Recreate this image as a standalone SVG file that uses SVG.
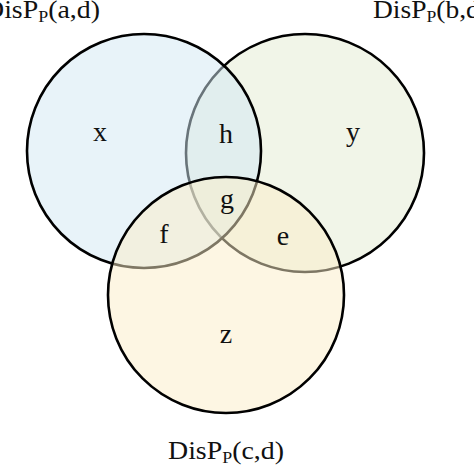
<svg xmlns="http://www.w3.org/2000/svg" width="474" height="474" viewBox="0 0 474 474">
<style>
.c{stroke:#000;stroke-width:2.6}
.lbl{font-family:"Liberation Serif","Times New Roman",serif;font-size:28px;fill:#111;text-anchor:middle}
.ttl{font-family:"Liberation Serif","Times New Roman",serif;font-size:25px;fill:#111}
.sub{font-size:16px}
</style>
<rect width="474" height="474" fill="#fff"/>
<g id="setB"><circle class="c" cx="305" cy="153" r="119" fill="#e5ecd6" fill-opacity="0.55"/></g>
<g id="setA"><circle class="c" cx="144" cy="151" r="117" fill="#d2e8f3" fill-opacity="0.5"/></g>
<g id="setC"><circle class="c" cx="226" cy="295" r="118" fill="#fbedc8" fill-opacity="0.5"/></g>
<g id="regions">
<text class="lbl" x="100" y="141">x</text>
<text class="lbl" x="226" y="143">h</text>
<text class="lbl" x="353" y="141">y</text>
<text class="lbl" x="227" y="208">g</text>
<text class="lbl" x="164" y="243">f</text>
<text class="lbl" x="283" y="245">e</text>
<text class="lbl" x="226" y="343">z</text>
</g>
<g id="titleA"><text class="ttl" x="-16" y="18" textLength="116" lengthAdjust="spacingAndGlyphs">DisP<tspan class="sub" dy="4">P</tspan><tspan dy="-4">(a,d)</tspan></text></g>
<g id="titleB"><text class="ttl" x="373" y="18" textLength="116" lengthAdjust="spacingAndGlyphs">DisP<tspan class="sub" dy="4">P</tspan><tspan dy="-4">(b,d)</tspan></text></g>
<g id="titleC"><text class="ttl" x="168" y="459" textLength="116" lengthAdjust="spacingAndGlyphs">DisP<tspan class="sub" dy="4">P</tspan><tspan dy="-4">(c,d)</tspan></text></g>
</svg>
